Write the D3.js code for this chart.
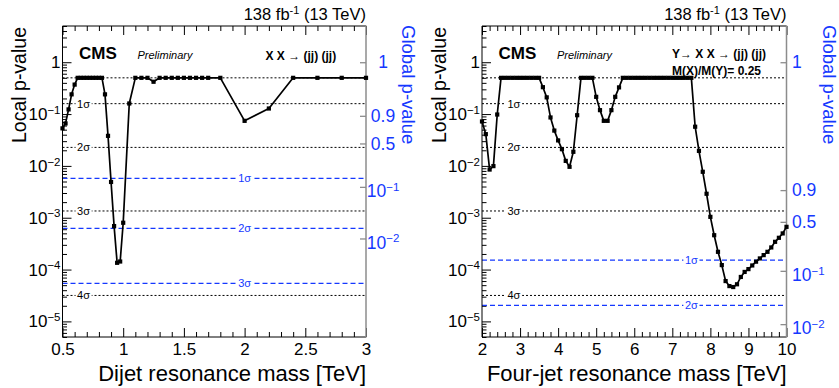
<!DOCTYPE html>
<html>
<head>
<meta charset="utf-8">
<script src="https://cdn.jsdelivr.net/npm/d3@7/dist/d3.min.js"></script>
<style>
  html, body { margin: 0; padding: 0; background: #fff; }
  svg text { font-family: "Liberation Sans", Arial, Helvetica, sans-serif; }
</style>
</head>
<body>
<svg id="chart" width="839" height="388"></svg>
<script>
// ---------------- data ----------------
// Dijet search: local p-value versus resonance mass (TeV)
const dijetMass = [0.5, 0.525, 0.55, 0.575, 0.6, 0.625, 0.65, 0.675, 0.7, 0.725, 0.75, 0.775, 0.8, 0.825,
  0.85, 0.875, 0.9, 0.925, 0.95, 0.975, 1.0, 1.05, 1.1, 1.15, 1.2, 1.25, 1.3, 1.35, 1.4, 1.45, 1.5,
  1.55, 1.6, 1.65, 1.7, 1.8, 2.0, 2.2, 2.4, 2.6, 2.8, 3.0];
const dijetLocalP = [0.053, 0.066, 0.123, 0.24, 0.37, 0.5, 0.5, 0.5, 0.5, 0.5, 0.5, 0.5, 0.5, 0.5,
  0.24, 0.038, 0.0049, 6.9e-4, 1.35e-4, 1.43e-4, 8.0e-4, 0.16, 0.5, 0.5, 0.5, 0.42, 0.5, 0.5, 0.5, 0.5, 0.5,
  0.5, 0.5, 0.5, 0.5, 0.5, 0.074, 0.128, 0.5, 0.5, 0.5, 0.5];

// Four-jet search (M(X)/M(Y) = 0.25): local p-value versus resonance mass (TeV)
const fourjetMass = [2.0, 2.1, 2.2, 2.3, 2.4, 2.5, 2.6, 2.7, 2.8, 2.9, 3.0, 3.1, 3.2, 3.3, 3.4, 3.5,
  3.6, 3.7, 3.8, 3.9, 4.0, 4.1, 4.2, 4.3, 4.4, 4.5, 4.6, 4.7, 4.8, 4.9, 5.0, 5.1, 5.2, 5.3, 5.4, 5.5,
  5.6, 5.7, 5.8, 5.9, 6.0, 6.1, 6.2, 6.3, 6.4, 6.5, 6.6, 6.7, 6.8, 6.9, 7.0, 7.1, 7.2, 7.3, 7.4, 7.5,
  7.6, 7.7, 7.8, 7.9, 8.0, 8.1, 8.2, 8.3, 8.4, 8.5, 8.6, 8.7, 8.8, 8.9, 9.0, 9.1, 9.2, 9.3, 9.4, 9.5,
  9.6, 9.7, 9.8, 9.9, 10.0];
const fourjetLocalP = [0.072, 0.041, 0.0085, 0.0099, 0.098, 0.5, 0.5, 0.5, 0.5, 0.5, 0.5, 0.5, 0.5, 0.5, 0.5, 0.5,
  0.33, 0.21, 0.086, 0.048, 0.031, 0.021, 0.0125, 0.0096, 0.0187, 0.095, 0.5, 0.5, 0.5, 0.5, 0.215, 0.119, 0.074, 0.074, 0.119, 0.215,
  0.327, 0.5, 0.5, 0.5, 0.5, 0.5, 0.5, 0.5, 0.5, 0.5, 0.5, 0.5, 0.5, 0.5, 0.5, 0.5, 0.5, 0.5, 0.5, 0.5,
  0.057, 0.0195, 0.0077, 0.0029, 0.00104, 4.6e-4, 2.2e-4, 1.22e-4, 6.0e-5, 4.8e-5, 4.6e-5, 5.2e-5, 7.2e-5, 9.0e-5, 1.02e-4, 1.2e-4, 1.42e-4, 1.64e-4, 1.9e-4, 2.2e-4,
  2.67e-4, 3.43e-4, 4.1e-4, 4.98e-4, 6.67e-4];

// local significance reference lines (one-sided p-values)
const localSigmaP = [0.5, 0.1587, 0.02275, 0.00135, 3.167e-5];
const localSigmaNames = ["", "1σ", "2σ", "3σ", "4σ"];

// decades labelled on the local p-value axis
const localDecades = [1e-5, 1e-4, 1e-3, 1e-2, 1e-1, 1];

// global p-value axis: labels and the local p-value at which each one sits
const globalTickLabels = ["1", "0.9", "0.5", "10^-1", "10^-2"];
const dijetGlobalTickAt = [1, 0.0925, 0.0271, 0.00394, 3.98e-4];
const fourjetGlobalTickAt = [1, 3.41e-3, 8.33e-4, 9.45e-5, 8.85e-6];

// global significance lines, at their equivalent local p-value
const globalSigmaNames = ["1σ", "2σ", "3σ"];
const dijetGlobalSigmaAt = [5.73e-3, 6.21e-4, 5.40e-5];
const fourjetGlobalSigmaAt = [1.52e-4, 2.03e-5];

const dijetXTicks = [0.5, 1, 1.5, 2, 2.5, 3];
const fourjetXTicks = [2, 3, 4, 5, 6, 7, 8, 9, 10];

// ---------------- layout ----------------
const BLUE = "#1538ff";
const GREY = "#8c8c8c";
const TOP = 26, BOTTOM = 337;

const panels = [
  {
    x0: 62.5, x1: 366, domain: [0.5, 3], minorCount: 25,
    mass: dijetMass, p: dijetLocalP, xTicks: dijetXTicks,
    globalAt: dijetGlobalTickAt, globalSigmaAt: dijetGlobalSigmaAt,
    localLabelMass: 0.62, globalLabelMass: 2.0,
    globalLabelAnchor: "middle", globalLabelPad: 17,
    xTitle: "Dijet resonance mass [TeV]",
    process: ["X X → (jj) (jj)"], processX: 265.5, processY: 60
  },
  {
    x0: 482, x1: 786.5, domain: [2, 10], minorCount: 40,
    mass: fourjetMass, p: fourjetLocalP, xTicks: fourjetXTicks,
    globalAt: fourjetGlobalTickAt, globalSigmaAt: fourjetGlobalSigmaAt,
    localLabelMass: 2.67, globalLabelMass: 7.5,
    globalLabelAnchor: "start", globalLabelPad: 5.5,
    xTitle: "Four-jet resonance mass [TeV]",
    process: ["Y→ X X → (jj) (jj)", "M(X)/M(Y)= 0.25"], processX: 672, processY: 58
  }
];

const svg = d3.select("#chart");
svg.append("rect").attr("width", 839).attr("height", 388).attr("fill", "#fff");

const ys = d3.scaleLog().domain([5e-6, 5]).range([BOTTOM, TOP]);

// write "10^-2" style strings as base + superscript
function richText(sel, str, supSize) {
  const parts = str.split("^");
  sel.text(null);
  sel.append("tspan").text(parts[0]);
  if (parts.length > 1) {
    sel.append("tspan").attr("dy", "-0.55em").attr("font-size", supSize)
      .text(parts[1].replace("-", "−"));
  }
}
function decadeLabel(v) {
  const e = Math.round(Math.log10(v));
  return e === 0 ? "1" : "10^" + e;
}

// labelled horizontal reference line, label boxed in white over the line
function refLine(g, xs, p, name, labelMass, color, dash, width) {
  const y = ys(p);
  g.append("line")
    .attr("x1", xs.range()[0]).attr("x2", xs.range()[1])
    .attr("y1", y).attr("y2", y)
    .style("stroke", color).style("stroke-width", width)
    .style("stroke-dasharray", dash);
  if (!name) return;
  const t = g.append("text")
    .attr("x", xs(labelMass)).attr("y", y).attr("dy", "0.35em")
    .attr("font-size", 11).style("fill", color)
    .attr("text-anchor", color === BLUE ? "middle" : "start")
    .text(name);
  const bb = t.node().getBBox();
  g.insert("rect", () => t.node())
    .attr("x", bb.x - 1.5).attr("y", y - 3)
    .attr("width", bb.width + 3).attr("height", 6)
    .attr("fill", "#fff");
}

panels.forEach(P => {
  const xs = d3.scaleLinear().domain(P.domain).range([P.x0, P.x1]);
  const g = svg.append("g");

  // x axis: major + minor ticks pointing inward, mirrored on top
  const minors = xs.ticks(P.minorCount).filter(v => !P.xTicks.some(t => Math.abs(t - v) < 1e-9));
  const xb = g.append("g").attr("transform", `translate(0,${BOTTOM})`)
    .call(d3.axisBottom(xs).tickValues(P.xTicks).tickSizeInner(-9).tickSizeOuter(0).tickPadding(6)
      .tickFormat(d3.format("~g")));
  xb.selectAll("text").attr("font-size", 17).attr("fill", "#000")
    .style("font-family", '"Liberation Sans", Arial, sans-serif');
  g.append("g").attr("transform", `translate(0,${BOTTOM})`)
    .call(d3.axisBottom(xs).tickValues(minors).tickSizeInner(-5).tickSizeOuter(0).tickFormat(""));
  g.append("g").attr("transform", `translate(0,${TOP})`)
    .call(d3.axisTop(xs).tickValues(P.xTicks).tickSizeInner(-9).tickSizeOuter(0).tickFormat(""));
  g.append("g").attr("transform", `translate(0,${TOP})`)
    .call(d3.axisTop(xs).tickValues(minors).tickSizeInner(-5).tickSizeOuter(0).tickFormat(""));

  // local p-value axis (log), major decades + 2..9 minors
  const yMinor = ys.ticks().filter(v => !localDecades.some(d => Math.abs(d - v) / d < 1e-6));
  const yl = g.append("g").attr("transform", `translate(${P.x0},0)`)
    .call(d3.axisLeft(ys).tickValues(localDecades).tickSizeInner(-9).tickSizeOuter(0).tickPadding(2)
      .tickFormat(""));
  yl.selectAll(".tick text").each(function (d) {
    const t = d3.select(this).attr("font-size", 17).attr("fill", "#000")
      .style("font-family", '"Liberation Sans", Arial, sans-serif');
    richText(t, decadeLabel(d), 11.5);
  });
  g.append("g").attr("transform", `translate(${P.x0},0)`)
    .call(d3.axisLeft(ys).tickValues(yMinor).tickSizeInner(-4.5).tickSizeOuter(0).tickFormat(""));

  g.selectAll(".tick line").attr("stroke", "#000");

  // global p-value axis on the right (grey ticks, blue labels)
  const yr = g.append("g").attr("transform", `translate(${P.x1},0)`)
    .call(d3.axisRight(ys).tickValues(P.globalAt).tickSizeInner(-6).tickSizeOuter(0)
      .tickPadding(P.globalLabelPad).tickFormat(""));
  yr.selectAll(".tick line").attr("stroke", GREY).attr("stroke-width", 1.3);
  yr.selectAll(".tick text").each(function (d, i) {
    const t = d3.select(this).attr("font-size", 17.5).attr("fill", BLUE)
      .attr("text-anchor", P.globalLabelAnchor)
      .style("font-family", '"Liberation Sans", Arial, sans-serif');
    const lab = globalTickLabels[i];
    if (lab.includes("^")) t.attr("dy", "0.55em");
    richText(t, lab, 11.5);
  });

  g.selectAll(".domain").remove();

  // reference lines: local (black dotted) and global (blue dashed)
  const ref = g.append("g");
  localSigmaP.forEach((p, i) =>
    refLine(ref, xs, p, localSigmaNames[i], P.localLabelMass, "#000", "2,2", 1));
  P.globalSigmaAt.forEach((p, i) =>
    refLine(ref, xs, p, globalSigmaNames[i], P.globalLabelMass, BLUE, "5,3", 1.2));

  // frame
  g.append("path")
    .attr("d", `M${P.x1},${TOP}H${P.x0}V${BOTTOM}H${P.x1}`)
    .attr("fill", "none").attr("stroke", "#000").attr("stroke-width", 1);
  g.append("line").attr("x1", P.x1).attr("x2", P.x1).attr("y1", TOP - 0.5).attr("y2", BOTTOM + 0.5)
    .attr("stroke", GREY).attr("stroke-width", 1.5);

  // local p-value curve with square markers
  const pts = d3.zip(P.mass, P.p);
  g.append("path").datum(pts)
    .attr("d", d3.line().x(d => xs(d[0])).y(d => ys(d[1])))
    .attr("fill", "none").attr("stroke", "#000").attr("stroke-width", 1.7)
    .attr("stroke-linejoin", "round");
  g.selectAll("rect.pt").data(pts).join("rect").attr("class", "pt")
    .attr("x", d => xs(d[0]) - 2.1).attr("y", d => ys(d[1]) - 2.1)
    .attr("width", 4.2).attr("height", 4.2).attr("fill", "#000");

  // titles
  g.append("text").attr("x", P.x1).attr("y", 381).attr("text-anchor", "end")
    .attr("font-size", 22).text(P.xTitle);
  g.append("text")
    .attr("transform", `translate(${P.x0 - 36.5},${TOP + 1}) rotate(-90)`)
    .attr("text-anchor", "end").attr("font-size", 19.5).text("Local p-value");
  g.append("text")
    .attr("transform", `translate(${P.x1 + 36},${TOP - 1}) rotate(90)`)
    .attr("text-anchor", "start").attr("font-size", 18.5).attr("fill", BLUE).text("Global p-value");

  const lumi = g.append("text").attr("x", P.x1).attr("y", 20).attr("text-anchor", "end")
    .attr("font-size", 16.5);
  lumi.append("tspan").text("138 fb");
  lumi.append("tspan").attr("dy", -6).attr("font-size", 11).text("-1");
  lumi.append("tspan").attr("dy", 6).text(" (13 TeV)");

  g.append("text").attr("x", P.x0 + 16.5).attr("y", 59).attr("font-size", 17)
    .attr("font-weight", "bold").text("CMS");
  g.append("text").attr("x", P.x0 + 75).attr("y", 59).attr("font-size", 11)
    .attr("font-style", "italic").text("Preliminary");

  P.process.forEach((s, i) =>
    g.append("text").attr("x", P.processX).attr("y", P.processY + i * 17)
      .attr("font-size", 12).attr("font-weight", "bold").text(s));
});
</script>
</body>
</html>
